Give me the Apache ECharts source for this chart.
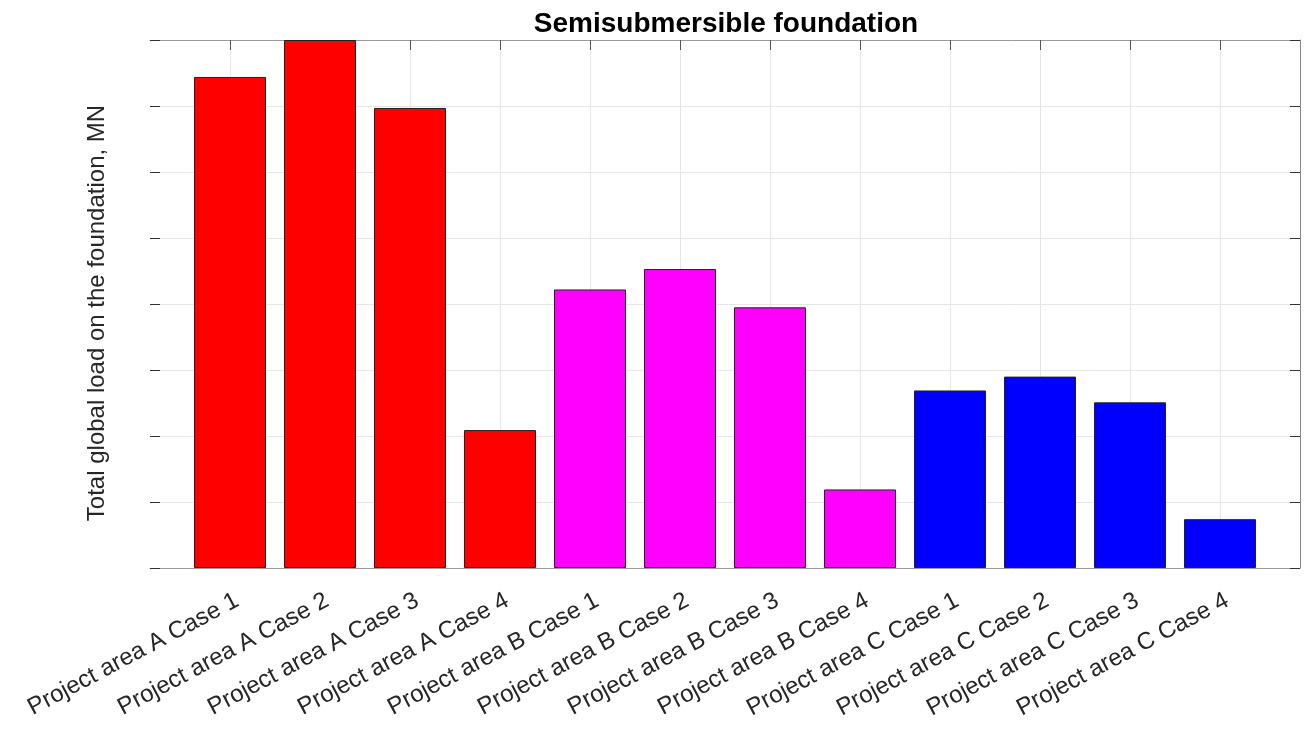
<!DOCTYPE html>
<html>
<head>
<meta charset="utf-8">
<script src="https://cdn.jsdelivr.net/npm/echarts@6/dist/echarts.min.js"></script>
<style>
  html, body { margin: 0; padding: 0; background: #fff; }
  #chart { width: 1307px; height: 734px; }
</style>
</head>
<body>
<div id="chart"></div>
<script>
const categories = [
  "Project area A Case 1", "Project area A Case 2", "Project area A Case 3", "Project area A Case 4",
  "Project area B Case 1", "Project area B Case 2", "Project area B Case 3", "Project area B Case 4",
  "Project area C Case 1", "Project area C Case 2", "Project area C Case 3", "Project area C Case 4"
];
// total global load (y axis has no tick labels, read in grid units)
const loads = [7.44, 8.0, 6.97, 2.09, 4.22, 4.53, 3.95, 1.19, 2.69, 2.90, 2.51, 0.74];
const groups = [0, 0, 0, 0, 1, 1, 1, 1, 2, 2, 2, 2];
const groupColors = ["#ff0000", "#ff00ff", "#0000ff"];
const positions = categories.map((c, i) => i + 1);

const chart = echarts.init(document.getElementById("chart"));
const font = "Liberation Sans, Arial, Helvetica, sans-serif";
const xMin = 1 - 8 / 9;
const xMax = 12 + 8 / 9;

const option = {
  animation: false,
  title: {
    text: "Semisubmersible foundation",
    left: 721,
    textAlign: "center",
    top: 5,
    textStyle: { fontFamily: font, fontSize: 28, fontWeight: "bold", color: "#000" }
  },
  grid: { left: 150, right: 7, top: 40, bottom: 166 },
  xAxis: [
    {
      type: "value",
      min: xMin,
      max: xMax,
      axisLine: { show: true, onZero: false, lineStyle: { color: "#9a9a9a", width: 1 } },
      axisTick: { show: false, customValues: positions },
      axisLabel: {
        customValues: positions,
        rotate: 28,
        margin: 35,
        padding: [0, -8, 0, 0],
        fontFamily: font,
        fontSize: 24,
        color: "#262626",
        formatter: (v) => categories[Math.round(v) - 1] || ""
      },
      splitLine: { show: true, lineStyle: { color: "#e6e6e6" } }
    },
    {
      type: "value",
      position: "top",
      min: xMin,
      max: xMax,
      axisLine: { show: true, onZero: false, lineStyle: { color: "#9a9a9a", width: 1 } },
      axisTick: { show: true, inside: true, length: 10, customValues: positions, lineStyle: { color: "#555" } },
      axisLabel: { show: false },
      splitLine: { show: false }
    }
  ],
  yAxis: [
    {
      type: "value",
      min: 0,
      max: 8,
      interval: 1,
      name: "Total global load on the foundation, MN",
      nameLocation: "middle",
      nameGap: 41,
      nameTextStyle: { fontFamily: font, fontSize: 24, color: "#262626", padding: [0, 0, 0, -18] },
      axisLine: { show: false, onZero: false },
      axisTick: { show: true, inside: true, length: 10, lineStyle: { color: "#333" } },
      axisLabel: { show: false },
      splitLine: { show: true, lineStyle: { color: "#e6e6e6" } }
    },
    {
      type: "value",
      position: "right",
      min: 0,
      max: 8,
      interval: 1,
      axisLine: { show: true, onZero: false, lineStyle: { color: "#8a8a8a", width: 1 } },
      axisTick: { show: true, inside: true, length: 10, lineStyle: { color: "#333" } },
      axisLabel: { show: false },
      splitLine: { show: false }
    }
  ],
  series: [
    {
      type: "bar",
      xAxisIndex: 0,
      yAxisIndex: 0,
      barWidth: 72,
      data: positions.map((p, i) => [p, loads[i]]),
      itemStyle: {
        color: (p) => groupColors[groups[p.dataIndex]],
        borderColor: "#222",
        borderWidth: 1
      }
    }
  ]
};
chart.setOption(option);
</script>
</body>
</html>
